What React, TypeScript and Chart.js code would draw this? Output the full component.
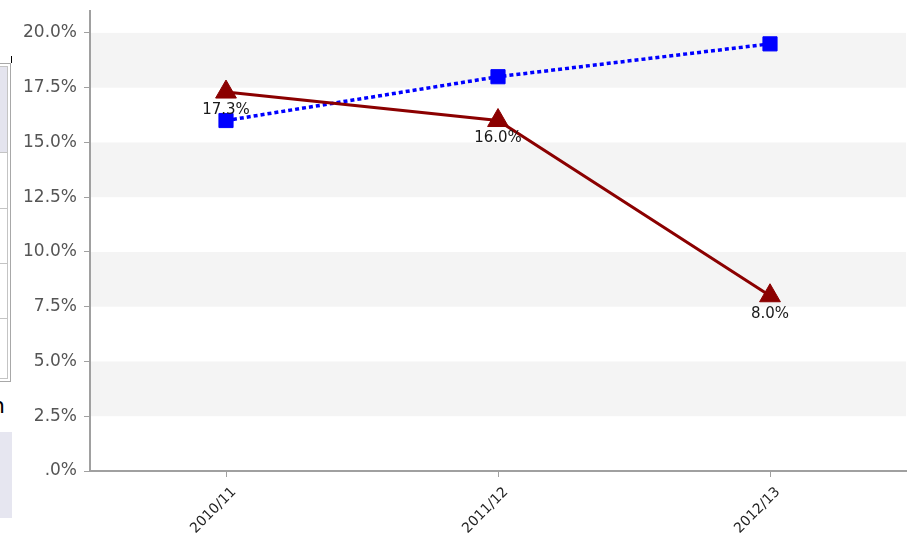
import React, { useEffect, useRef } from "react";
import { Chart, registerables } from "chart.js";

Chart.register(...registerables);

const categories = ["2010/11", "2011/12", "2012/13"];
const blueSeries = [16.0, 18.0, 19.5];
const redSeries = [17.3, 16.0, 8.0];
const yTickValues = [0, 2.5, 5, 7.5, 10, 12.5, 15, 17.5, 20];
const bandRanges = [[17.5, 20], [12.5, 15], [7.5, 10], [2.5, 5]];

const FONT = "'DejaVu Sans', Verdana, sans-serif";

const bandsPlugin = {
  id: "bands",
  beforeDatasetsDraw(chart: any) {
    const { ctx, chartArea } = chart;
    const y = chart.scales.y;
    ctx.save();
    ctx.fillStyle = "#f4f4f4";
    bandRanges.forEach(([a, b]) => {
      const y1 = y.getPixelForValue(b);
      const y2 = y.getPixelForValue(a);
      ctx.fillRect(chartArea.left + 1, y1, chartArea.right - chartArea.left - 1, y2 - y1);
    });
    ctx.restore();
  },
};

const labelsPlugin = {
  id: "pointLabels",
  afterDatasetsDraw(chart: any) {
    const { ctx } = chart;
    const meta = chart.getDatasetMeta(0);
    ctx.save();
    ctx.font = `15px ${FONT}`;
    ctx.fillStyle = "#1a1a1a";
    ctx.textAlign = "center";
    ctx.textBaseline = "middle";
    meta.data.forEach((pt: any, i: number) => {
      ctx.fillText(redSeries[i].toFixed(1) + "%", pt.x, pt.y + 18);
    });
    ctx.restore();
  },
};

function LeftDecor() {
  const rows = [152, 208, 263, 318];
  return (
    <>
      <div style={{ position: "absolute", left: 11, top: 56, width: 1, height: 7, background: "#000" }} />
      <div style={{ position: "absolute", left: -2, top: 63, width: 13, height: 319, border: "1px solid #a8a8a8", borderLeft: "none", boxSizing: "border-box" }} />
      <div style={{ position: "absolute", left: -2, top: 66, width: 10, height: 313, border: "1px solid #c4c4c4", borderLeft: "none", boxSizing: "border-box" }} />
      <div style={{ position: "absolute", left: 0, top: 67, width: 7, height: 85, background: "#e4e4ee" }} />
      {rows.map((r) => (
        <div key={r} style={{ position: "absolute", left: 0, top: r, width: 8, height: 1, background: "#c4c4c4" }} />
      ))}
      <div style={{ position: "absolute", left: -9, top: 393, fontFamily: FONT, fontSize: 22, color: "#000", lineHeight: "26px" }}>n</div>
      <div style={{ position: "absolute", left: 0, top: 432, width: 12, height: 86, background: "#e6e6f0" }} />
    </>
  );
}

export default function App() {
  const canvasRef = useRef<HTMLCanvasElement | null>(null);

  useEffect(() => {
    if (!canvasRef.current) return;
    const chart = new Chart(canvasRef.current, {
      type: "line",
      data: {
        labels: categories,
        datasets: [
          {
            label: "Red",
            data: redSeries,
            borderColor: "#8b0000",
            backgroundColor: "#8b0000",
            borderWidth: 3,
            pointStyle: "triangle",
            pointRadius: 12,
            pointBorderWidth: 1,
            pointBackgroundColor: "#8b0000",
            pointBorderColor: "#8b0000",
            tension: 0,
          },
          {
            label: "Blue",
            data: blueSeries,
            borderColor: "#0000ff",
            backgroundColor: "#0000ff",
            borderWidth: 3.5,
            borderDash: [4, 3],
            pointStyle: "rect",
            pointRadius: 10,
            pointBorderWidth: 1,
            pointBackgroundColor: "#0000ff",
            pointBorderColor: "#0000ff",
            tension: 0,
          },
        ],
      },
      options: {
        animation: false,
        responsive: true,
        maintainAspectRatio: false,
        layout: { autoPadding: false, padding: { top: 11, right: 8, left: 0, bottom: 0 } },
        plugins: {
          legend: { display: false },
          tooltip: { enabled: false },
        },
        scales: {
          x: {
            offset: true,
            afterFit(scale: any) {
              scale.height = 69;
              scale.paddingLeft = 0;
              scale.paddingRight = 0;
            },
            grid: {
              offset: false,
              drawOnChartArea: false,
              drawTicks: true,
              tickLength: 6,
              color: "#a0a0a0",
              lineWidth: 1,
            },
            border: { color: "#a0a0a0", width: 2 },
            ticks: {
              autoSkip: false,
              minRotation: 45,
              maxRotation: 45,
              padding: 7,
              labelOffset: 8,
              color: "#222",
              font: { family: FONT, size: 14 },
            },
          },
          y: {
            min: 0,
            max: 21,
            afterFit(scale: any) {
              scale.width = 90;
              scale.paddingTop = 0;
              scale.paddingBottom = 0;
            },
            afterBuildTicks(scale: any) {
              scale.ticks = yTickValues.map((v) => ({ value: v }));
            },
            grid: {
              drawOnChartArea: false,
              drawTicks: true,
              tickLength: 6,
              color: "#a0a0a0",
              lineWidth: 1,
            },
            border: { color: "#a0a0a0", width: 2 },
            ticks: {
              padding: 7,
              color: "#555",
              font: { family: FONT, size: 17 },
              callback: (v: any) => (Number(v) === 0 ? ".0%" : Number(v).toFixed(1) + "%"),
            },
          },
        },
      },
      plugins: [bandsPlugin, labelsPlugin],
    });
    return () => chart.destroy();
  }, []);

  return (
    <div style={{ position: "absolute", left: 0, top: 0, width: 914, height: 540, overflow: "hidden", background: "#fff" }}>
      <LeftDecor />
      <div style={{ position: "absolute", left: 0, top: 0, width: 914, height: 540 }}>
        <canvas ref={canvasRef} />
      </div>
    </div>
  );
}
